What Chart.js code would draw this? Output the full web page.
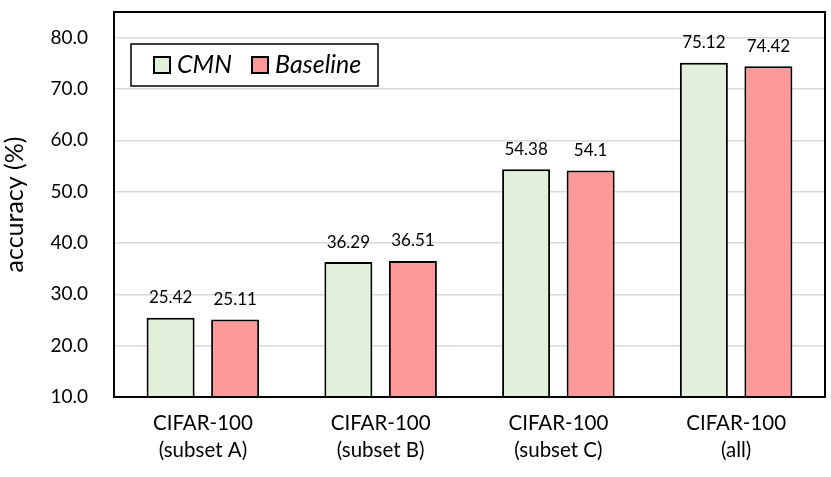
<!DOCTYPE html>
<html>
<head>
<meta charset="utf-8">
<script src="https://cdn.jsdelivr.net/npm/chart.js@4/dist/chart.umd.min.js"></script>
<style>
  html, body { margin: 0; padding: 0; background: #fff; }
  #wrap { width: 831px; height: 477px; }
</style>
</head>
<body>
<div id="wrap"><canvas id="accChart"></canvas></div>
<script>
// data
const categories = [
    ['CIFAR-100', '(subset A)'],
    ['CIFAR-100', '(subset B)'],
    ['CIFAR-100', '(subset C)'],
    ['CIFAR-100', '(all)']
];
const cmnValues = [25.42, 36.29, 54.38, 75.12];
const baselineValues = [25.11, 36.51, 54.1, 74.42];
const seriesNames = ['CMN', 'Baseline'];
const seriesColors = ['#E2EFDA', '#FF9999'];
const yMin = 10, yMax = 85, yStep = 10;

const FONT = 'Lato, "Open Sans", sans-serif';

// value labels on top of each bar
const valueLabels = {
    id: 'valueLabels',
    afterDatasetsDraw(chart) {
        const ctx = chart.ctx;
        ctx.save();
        ctx.font = '17px ' + FONT;
        ctx.fillStyle = '#000';
        ctx.textAlign = 'center';
        ctx.textBaseline = 'middle';
        chart.data.datasets.forEach((ds, i) => {
            chart.getDatasetMeta(i).data.forEach((bar, j) => {
                ctx.fillText(String(ds.data[j]), bar.x, bar.y - 20);
            });
        });
        ctx.restore();
    }
};

// border round the plot + legend box inside it
const frameAndLegend = {
    id: 'frameAndLegend',
    afterDraw(chart) {
        const ctx = chart.ctx;
        const a = chart.chartArea;
        ctx.save();
        ctx.strokeStyle = '#000';
        ctx.lineWidth = 2;
        ctx.strokeRect(a.left, a.top, a.right - a.left, a.bottom - a.top);

        // legend
        const lx = a.left + 17, ly = a.top + 32;
        ctx.fillStyle = '#fff';
        ctx.fillRect(lx, ly, 247, 42);
        ctx.lineWidth = 1.5;
        ctx.strokeRect(lx, ly, 247, 42);
        ctx.font = 'italic 25px ' + FONT;
        ctx.textBaseline = 'middle';
        ctx.textAlign = 'left';
        let x = lx + 23;
        chart.data.datasets.forEach(ds => {
            ctx.fillStyle = ds.backgroundColor;
            ctx.fillRect(x, ly + 13, 16, 16);
            ctx.lineWidth = 2;
            ctx.strokeStyle = '#000';
            ctx.strokeRect(x, ly + 13, 16, 16);
            ctx.fillStyle = '#000';
            ctx.fillText(ds.label, x + 23, ly + 21);
            x += 98;
        });
        ctx.restore();
    }
};

function createAccuracyChart() {
    const ctx = document.getElementById('accChart').getContext('2d');
    new Chart(ctx, {
        type: 'bar',
        data: {
            labels: categories,
            datasets: [
                {
                    label: seriesNames[0],
                    data: cmnValues,
                    backgroundColor: seriesColors[0],
                    borderColor: '#000',
                    borderWidth: 2
                },
                {
                    label: seriesNames[1],
                    data: baselineValues,
                    backgroundColor: seriesColors[1],
                    borderColor: '#000',
                    borderWidth: 2
                }
            ]
        },
        options: {
            responsive: true,
            maintainAspectRatio: false,
            animation: false,
            categoryPercentage: 0.726,
            barPercentage: 0.744,
            layout: { padding: { top: 12, right: 6, left: 0, bottom: 0 } },
            scales: {
                y: {
                    min: yMin,
                    max: yMax,
                    afterFit: s => {
                        s.width = 114;
                        s.paddingTop = 0;
                        s.paddingBottom = 0;
                    },
                    ticks: {
                        stepSize: yStep,
                        includeBounds: false,
                        padding: 26,
                        color: '#000',
                        font: { family: FONT, size: 19 },
                        callback: v => v.toFixed(1)
                    },
                    grid: { color: '#d9d9d9', lineWidth: 1.5, drawTicks: false },
                    border: { display: false },
                    title: {
                        display: true,
                        text: 'accuracy (%)',
                        color: '#000',
                        font: { family: FONT, size: 25 },
                        padding: { top: 0, bottom: 2 }
                    }
                },
                x: {
                    afterFit: s => {
                        s.height = 80;
                        s.paddingLeft = 0;
                        s.paddingRight = 0;
                    },
                    ticks: {
                        padding: 13,
                        color: '#000',
                        font: { family: FONT, size: 20.5, lineHeight: 1.32 }
                    },
                    grid: { display: false, drawTicks: false },
                    border: { display: false }
                }
            },
            plugins: {
                legend: { display: false },
                tooltip: { enabled: false }
            }
        },
        plugins: [valueLabels, frameAndLegend]
    });
}

window.onload = createAccuracyChart;
</script>
</body>
</html>
